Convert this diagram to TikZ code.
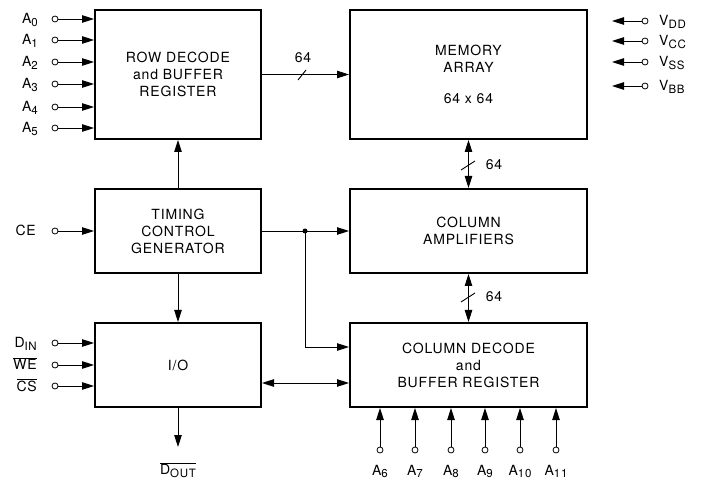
\documentclass[tikz,border=0pt]{standalone}
\usepackage{fontspec}
\setmainfont[LetterSpace=6]{TeX Gyre Heros}
\usetikzlibrary{arrows.meta}
\tikzset{
  blk/.style={draw, line width=2pt, inner sep=0pt, align=center},
  pin/.style={circle, draw, line width=0.8pt, inner sep=0pt, minimum size=6pt},
  lbl/.style={inner sep=0pt},
  wire/.style={line width=0.9pt},
  sig/.style={wire, -{Triangle[length=12pt,width=7.5pt]}},
  bus/.style={wire, {Triangle[length=12pt,width=7.5pt]}-{Triangle[length=12pt,width=7.5pt]}},
}
\newcommand{\lo}[1]{\raisebox{-0.4ex}{\fontsize{11.5}{11.5}\selectfont #1}}
\newcommand{\ovl}[1]{$\overline{\mbox{#1}}$}

\begin{document}
\begin{tikzpicture}[x=1pt, y=-1pt, font=\fontsize{14}{17}\selectfont]
  \useasboundingbox (0,0) rectangle (702,481);
  % blocks
  \node[blk, minimum width=166pt, minimum height=129pt] (row) at (178,74.5) {ROW DECODE\\and BUFFER\\REGISTER};
  \node[blk, minimum width=237pt, minimum height=129pt] (mem) at (468.5,74.5) {MEMORY\\ARRAY\\[14pt]64 x 64};
  \node[blk, minimum width=166pt, minimum height=84pt] (tcg) at (178,231) {TIMING\\CONTROL\\GENERATOR};
  \node[blk, minimum width=237pt, minimum height=84pt] (amp) at (468.5,231) {COLUMN\\AMPLIFIERS};
  \node[blk, minimum width=166pt, minimum height=84pt] (io) at (178,365) {I/O};
  \node[blk, minimum width=237pt, minimum height=84pt] (cdec) at (468.5,365) {COLUMN DECODE\\and\\BUFFER REGISTER};
  % row address inputs
  \foreach \i/\y in {0/19,1/40,2/62,3/84,4/107,5/128} {
    \node[pin] (a\i) at (55,\y) {};
    \node[lbl, anchor=base east] (la\i) at (38,{\y+4.5}) {A\lo{\i}};
    \draw[sig] (a\i) -- (a\i -| row.west);
  }
  % supplies
  \foreach \n/\y in {DD/21,CC/41,SS/62,BB/86} {
    \node[pin] (v\n) at (645,\y) {};
    \coordinate (vt\n) at (612,\y);
    \node[lbl, anchor=base west] (lv\n) at (659,{\y+4.5}) {V\lo{\n}};
    \draw[sig] (v\n) -- (vt\n);
  }
  % 64 wide buses
  \draw[sig] (row.east) -- (mem.west);
  \draw[wire] (298,80) -- (306,70);
  \node[lbl] (n1) at (303,58) {64};
  \draw[bus] (mem.south) -- (amp.north);
  \draw[wire] (461,170) -- (475,161);
  \node[lbl] (n2) at (494,165) {64};
  \draw[bus] (amp.south) -- (cdec.north);
  \draw[wire] (461,302) -- (475,293);
  \node[lbl] (n3) at (494,297) {64};
  % timing
  \node[pin] (ce) at (55,231) {};
  \node[lbl, anchor=base east] (lce) at (36,{231+5}) {CE};
  \draw[sig] (ce) -- (ce -| tcg.west);
  \draw[sig] (tcg.north) -- (row.south);
  \draw[sig] (tcg.south) -- (io.north);
  \draw[sig] (tcg.east) -- (amp.west);
  \node[circle, fill, inner sep=0pt, minimum size=5pt] (jn) at (305,231) {};
  \draw[sig] (jn.center) |- ([yshift=18pt]cdec.west);
  % I/O
  \foreach \n/\t/\y in {din/D\lo{IN}/343,we/\ovl{WE}/365,cs/\ovl{CS}/386} {
    \node[pin] (\n) at (55,\y) {};
    \node[lbl, anchor=base east] (l\n) at (37,{\y+5}) {\t};
    \draw[sig] (\n) -- (\n -| io.west);
  }
  \draw[bus] ([yshift=-18pt]io.east) -- ([yshift=-18pt]cdec.west);
  \coordinate (dout) at (178,447);
  \draw[sig] (io.south) -- (dout);
  \node[lbl] (ldout) at (178,470) {\ovl{D\lo{OUT}}};
  % column address inputs
  \foreach \i/\x in {6/380,7/415,8/451,9/485,10/520,11/556} {
    \node[pin] (c\i) at (\x,450) {};
    \node[lbl, anchor=base] (lc\i) at (\x,475) {A\lo{\i}};
    \draw[sig] (c\i) -- (c\i |- cdec.south);
  }
\end{tikzpicture}
\end{document}
